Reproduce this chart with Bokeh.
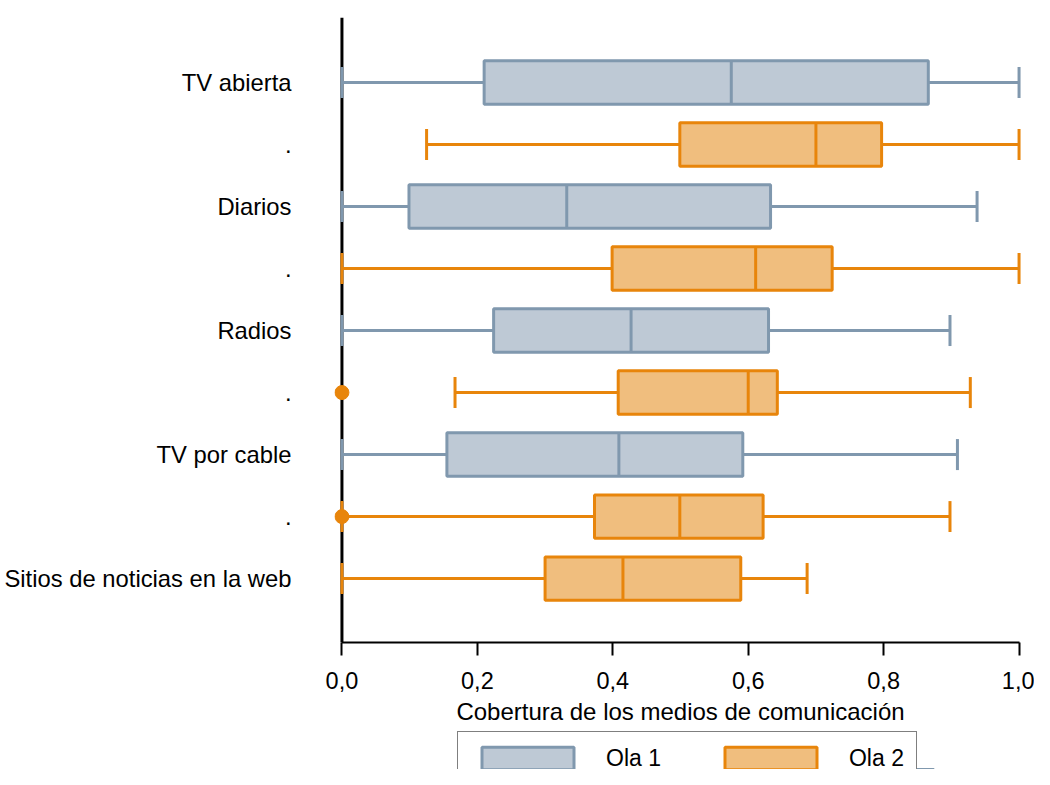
from bokeh.plotting import figure
from bokeh.layouts import column
from bokeh.models import (Range1d, FixedTicker, CustomJSTickFormatter, Span,
                          Legend, LegendItem, ColumnDataSource)
from bokeh.embed import file_html
from bokeh.resources import INLINE

# ---------------- data ----------------
categories = ["TV abierta", "Diarios", "Radios", "TV por cable",
              "Sitios de noticias en la web"]

ola1_cats = ["TV abierta", "Diarios", "Radios", "TV por cable"]
ola1_lo = [0.0, 0.0, 0.0, 0.0]
ola1_q1 = [0.210, 0.099, 0.224, 0.155]
ola1_med = [0.575, 0.332, 0.427, 0.409]
ola1_q3 = [0.866, 0.633, 0.630, 0.592]
ola1_hi = [1.0, 0.938, 0.898, 0.909]

ola2_cats = ["TV abierta", "Diarios", "Radios", "TV por cable",
             "Sitios de noticias en la web"]
ola2_lo = [0.125, 0.0, 0.167, 0.0, 0.0]
ola2_q1 = [0.499, 0.399, 0.408, 0.373, 0.300]
ola2_med = [0.700, 0.611, 0.600, 0.499, 0.415]
ola2_q3 = [0.797, 0.724, 0.643, 0.622, 0.589]
ola2_hi = [1.0, 1.0, 0.928, 0.898, 0.687]

outlier_cats = ["Radios", "TV por cable"]
outlier_wave = ["Ola 2", "Ola 2"]
outlier_vals = [0.0, 0.0]

x_ticks = [0.0, 0.2, 0.4, 0.6, 0.8, 1.0]
x_label = "Cobertura de los medios de comunicación"
wave_names = ["Ola 1", "Ola 2"]

# ---------------- styles ----------------
FONT = "Liberation Sans"
GRAY_FILL, GRAY_LINE = "#bec9d5", "#8098ae"
ORANGE_FILL, ORANGE_LINE = "#f0be7e", "#e8850b"
BOX_H = 0.70
CAP_H = 0.50
LW = 3

# row layout: each category gets one row per wave present
rows = []
for c in categories:
    for w, cats in ((wave_names[0], ola1_cats), (wave_names[1], ola2_cats)):
        if c in cats:
            rows.append((c, w))
pos = {r: i + 1 for i, r in enumerate(rows)}
labels = {}
for i, (c, w) in enumerate(rows):
    labels[i + 1] = c if (i == 0 or rows[i - 1][0] != c) else "."

p = figure(width=1034, height=727,
           x_range=Range1d(-0.011, 1.011), y_range=Range1d(10.03, -0.047),
           output_backend="svg", toolbar_location=None,
           min_border_left=334, min_border_right=8, min_border_top=17,
           min_border_bottom=84)
p.grid.visible = False
p.outline_line_color = None

p.add_layout(Span(location=0, dimension="height", line_color="black",
                  line_width=3, level="underlay"))


def draw(cats, lo, q1, med, q3, hi, wave, fill, line):
    ys = [pos[(c, wave)] for c in cats]
    src = ColumnDataSource(dict(
        y=ys, lo=lo, q1=q1, med=med, q3=q3, hi=hi,
        yb0=[y - BOX_H / 2 for y in ys], yb1=[y + BOX_H / 2 for y in ys],
        yc0=[y - CAP_H / 2 for y in ys], yc1=[y + CAP_H / 2 for y in ys]))
    kw = dict(line_color=line, line_width=LW, line_cap="butt")
    p.segment(x0="lo", y0="y", x1="q1", y1="y", source=src, **kw)
    p.segment(x0="q3", y0="y", x1="hi", y1="y", source=src, **kw)
    p.segment(x0="lo", y0="yc0", x1="lo", y1="yc1", source=src, **kw)
    p.segment(x0="hi", y0="yc0", x1="hi", y1="yc1", source=src, **kw)
    p.hbar(y="y", left="q1", right="q3", height=BOX_H, source=src,
           fill_color=fill, line_color=line, line_width=LW)
    p.segment(x0="med", y0="yb0", x1="med", y1="yb1", source=src, **kw)


draw(ola1_cats, ola1_lo, ola1_q1, ola1_med, ola1_q3, ola1_hi,
     wave_names[0], GRAY_FILL, GRAY_LINE)
draw(ola2_cats, ola2_lo, ola2_q1, ola2_med, ola2_q3, ola2_hi,
     wave_names[1], ORANGE_FILL, ORANGE_LINE)

oy = [pos[(c, w)] for c, w in zip(outlier_cats, outlier_wave)]
p.scatter(x=outlier_vals, y=oy, size=14, fill_color=ORANGE_LINE,
          line_color=ORANGE_LINE)

# y axis
ya = p.yaxis[0]
ya.ticker = FixedTicker(ticks=list(labels.keys()))
ya.major_label_overrides = labels
ya.axis_line_color = None
ya.major_tick_line_color = None
ya.minor_tick_line_color = None
ya.major_label_standoff = 37
ya.major_label_text_font = FONT
ya.major_label_text_font_size = "23.8px"
ya.major_label_text_color = "black"

# x axis
xa = p.xaxis[0]
xa.bounds = (0, 1)
xa.ticker = FixedTicker(ticks=x_ticks)
xa.formatter = CustomJSTickFormatter(code="return tick.toFixed(1).replace('.', ',');")
xa.axis_line_color = "black"
xa.axis_line_width = 2
xa.major_tick_line_color = "black"
xa.major_tick_line_width = 2
xa.major_tick_out = 13
xa.major_tick_in = 0
xa.minor_tick_line_color = None
xa.major_label_standoff = 16
xa.major_label_text_font = FONT
xa.major_label_text_font_size = "23.5px"
xa.major_label_text_color = "black"
xa.axis_label = x_label
xa.axis_label_text_font = FONT
xa.axis_label_text_font_size = "24px"
xa.axis_label_text_font_style = "normal"
xa.axis_label_text_color = "black"
xa.axis_label_standoff = 6

# ---------------- legend strip ----------------
# legend proxies: one bar per wave, placed outside the strip's visible y range
pl = figure(width=1034, height=42, x_range=Range1d(0, 1), y_range=Range1d(0, 1),
            output_backend="svg", toolbar_location=None,
            x_axis_location=None, y_axis_location=None,
            min_border_left=0, min_border_right=0, min_border_top=0,
            min_border_bottom=0)
pl.grid.visible = False
pl.outline_line_color = None
r1 = pl.hbar(y=[-10], left=ola1_q1[:1], right=ola1_q3[:1], height=BOX_H,
             fill_color=GRAY_FILL, line_color=GRAY_LINE, line_width=LW)
r2 = pl.hbar(y=[-10], left=ola2_q1[:1], right=ola2_q3[:1], height=BOX_H,
             fill_color=ORANGE_FILL, line_color=ORANGE_LINE, line_width=LW)
legend = Legend(items=[LegendItem(label=wave_names[0], renderers=[r1]),
                       LegendItem(label=wave_names[1], renderers=[r2])],
                orientation="horizontal", location=(123, -16),
                glyph_width=115, glyph_height=28, label_standoff=21,
                spacing=52, padding=12, margin=0,
                label_text_font=FONT, label_text_font_size="23px",
                label_text_color="black",
                border_line_color="black", border_line_width=1.5,
                background_fill_alpha=1)
pl.add_layout(legend)

layout = column(p, pl, spacing=0)
open("out.html", "w").write(file_html(layout, INLINE))
